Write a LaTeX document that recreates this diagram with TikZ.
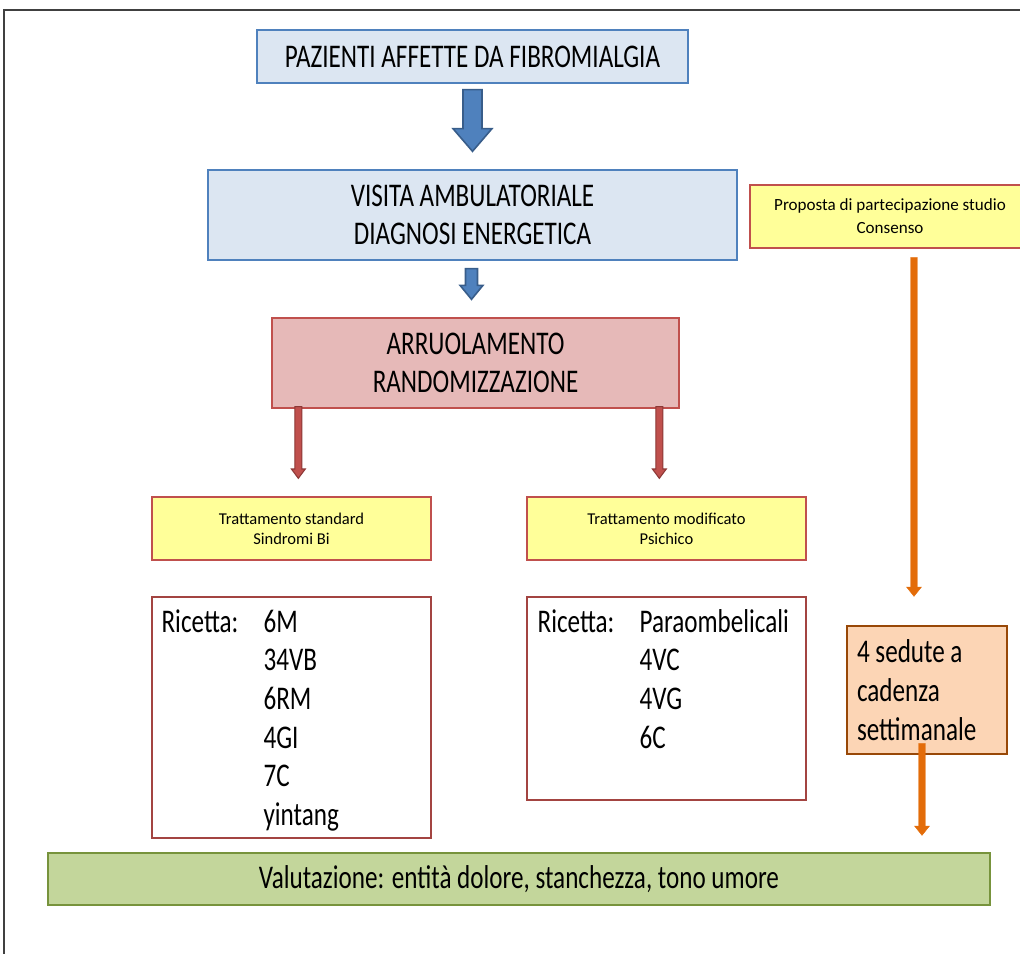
\documentclass[tikz,border=0pt]{standalone}
\usepackage{fontspec}
\setmainfont{Carlito}
\newfontfamily\bigfont[FakeStretch=0.76]{Carlito}
\usetikzlibrary{calc}

\definecolor{bluefill}{HTML}{DCE6F2}
\definecolor{blueline}{HTML}{4F81BD}
\definecolor{bluedark}{HTML}{385D8A}
\definecolor{redfill}{HTML}{E6B9B8}
\definecolor{redline}{HTML}{C0504D}
\definecolor{reddark}{HTML}{8C3836}
\definecolor{yellowfill}{HTML}{FFFF99}
\definecolor{orangefill}{HTML}{FCD5B5}
\definecolor{orangeline}{HTML}{984807}
\definecolor{orangearrow}{HTML}{E36C09}
\definecolor{greenfill}{HTML}{C3D69B}
\definecolor{greenline}{HTML}{77933C}

% block arrow pointing down: style, from, to, half shaft, half head, head length
\newcommand{\blockdown}[6]{%
  \draw[#1] let \p1=(#2), \p2=(#3) in
    (\x1-#4,\y1) -- (\x1+#4,\y1) -- (\x1+#4,\y2+#6) -- (\x1+#5,\y2+#6)
    -- (\x1,\y2) -- (\x1-#5,\y2+#6) -- (\x1-#4,\y2+#6) -- cycle;}

\begin{document}
\begin{tikzpicture}[x=0.75pt,y=-0.75pt,
    box/.style={draw, line width=1pt, inner sep=0pt, align=center},
    bigtext/.style={font=\bigfont\fontsize{24.8}{29}\selectfont},
    smalltext/.style={font=\fontsize{12.4}{15}\selectfont},
    bluebox/.style={box, bigtext, fill=bluefill, draw=blueline},
    yellowbox/.style={box, smalltext, fill=yellowfill, draw=redline},
    listbox/.style={box, fill=white, draw=redline!85!black},
    bluearrow/.style={fill=blueline, draw=bluedark, line width=1.2pt, line join=miter},
    redarrow/.style={fill=redline, draw=reddark, line width=0.8pt},
    orangearrow/.style={fill=orangearrow, draw=orangearrow, line width=0.3pt}]

    \useasboundingbox (0,0) rectangle (1020,954);
    \clip (0,0) rectangle (1020,954);

    %frame
    \draw[line width=1.2pt, black!75] (1020,10) -- (4,10) -- (4,954);

    %boxes
    \node[bluebox, minimum width=323.25pt, minimum height=39.75pt] (paz) at (472.5,56.5)
        {PAZIENTI AFFETTE DA FIBROMIALGIA};
    \node[bluebox, minimum width=396.75pt, minimum height=67.5pt] (visita) at (472.5,215)
        {VISITA AMBULATORIALE\\DIAGNOSI ENERGETICA};
    \node[box, bigtext, fill=redfill, draw=redline, minimum width=305.25pt, minimum height=67.5pt] (arr) at (475.5,363)
        {ARRUOLAMENTO\\RANDOMIZZAZIONE};
    \node[yellowbox, minimum width=209.25pt, minimum height=47.25pt] (std) at (291.5,528.5)
        {Trattamento standard\\Sindromi Bi};
    \node[yellowbox, minimum width=209.25pt, minimum height=47.25pt] (mod) at (666.5,528.5)
        {Trattamento modificato\\Psichico};
    \node[yellowbox, font=\fontsize{12.8}{17.25}\selectfont, minimum width=210pt, minimum height=47.25pt] (prop) at (890,216.5)
        {Proposta di partecipazione studio\\Consenso};
    \node[listbox, minimum width=209.25pt, minimum height=180.75pt] (ric1) at (291.5,717.5) {};
    \node[listbox, minimum width=209.25pt, minimum height=152.25pt] (ric2) at (666.5,698.5) {};
    \node[box, bigtext, fill=orangefill, draw=orangeline, align=flush left, text width=105pt,
        inner xsep=7.5pt, minimum height=96pt] (sed) at (927,690)
        {4 sedute a\\cadenza\\settimanale};
    \node[box, bigtext, fill=greenfill, draw=greenline, minimum width=706.5pt, minimum height=39pt] (val) at (519,879)
        {Valutazione: entità dolore, stanchezza, tono umore};

    %recipes
    \node[bigtext, anchor=north west, inner sep=0pt] (ric1txt) at ([xshift=7.5pt,yshift=-6.3pt]ric1.north west)
        {\begin{tabular}{@{}p{76.5pt}@{}l@{}}
         Ricetta: & 6M\\ & 34VB\\ & 6RM\\ & 4GI\\ & 7C\\ & yintang
         \end{tabular}};
    \node[bigtext, anchor=north west, inner sep=0pt] (ric2txt) at ([xshift=8.25pt,yshift=-6.3pt]ric2.north west)
        {\begin{tabular}{@{}p{76.5pt}@{}l@{}}
         Ricetta: & Paraombelicali\\ & 4VC\\ & 4VG\\ & 6C
         \end{tabular}};

    %arrows
    \blockdown{bluearrow}{[yshift=-4.5pt]paz.south}{[yshift=13.5pt]visita.north}{7.1pt}{14.6pt}{17pt}
    \blockdown{bluearrow}{[xshift=-0.75pt,yshift=-6pt]visita.south}{[yshift=13.5pt]arr.north}{4.5pt}{8.6pt}{10.5pt}
    \blockdown{redarrow}{[xshift=20.25pt,yshift=1.5pt]arr.south west}{[yshift=13.5pt]std.north}{2.6pt}{5.2pt}{7pt}
    \blockdown{redarrow}{[xshift=-15.25pt,yshift=1.5pt]arr.south east}{[yshift=13.5pt]mod.north}{2.6pt}{5.2pt}{7pt}
    \blockdown{orangearrow}{[xshift=18pt,yshift=-6.75pt]prop.south}{[yshift=21.75pt]sed.north}{2.6pt}{5.6pt}{7pt}
    \blockdown{orangearrow}{[xshift=-3.75pt,yshift=8.25pt]sed.south}{[yshift=12.75pt]val.north}{2.6pt}{5.6pt}{7pt}
\end{tikzpicture}
\end{document}
